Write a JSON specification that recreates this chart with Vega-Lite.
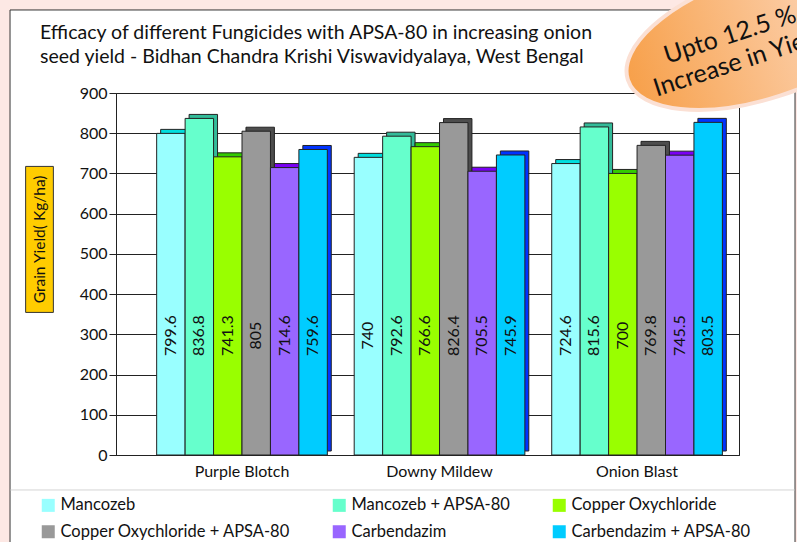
{
  "$schema": "https://vega.github.io/schema/vega-lite/v6.json",
  "width": 623,
  "height": 362,
  "autosize": {"type": "none"},
  "padding": {"left": 116, "top": 93, "right": 58, "bottom": 87},
  "background": "white",
  "config": {
    "font": "Lato",
    "view": {"stroke": "#222", "strokeWidth": 1}
  },
  "title": {
    "text": ["Efficacy of different Fungicides with APSA-80 in increasing onion", "seed yield - Bidhan Chandra Krishi Viswavidyalaya, West Bengal"],
    "anchor": "start",
    "frame": "group",
    "dx": -76,
    "dy": 130,
    "offset": 18,
    "fontSize": 19.5,
    "fontWeight": "normal",
    "color": "#111",
    "lineHeight": 24
  },
  "data": {
    "values": [
      {"disease": "Purple Blotch", "treatment": "Mancozeb", "value": 799.6, "label": "799.6"},
      {"disease": "Purple Blotch", "treatment": "Mancozeb + APSA-80", "value": 836.8, "label": "836.8"},
      {"disease": "Purple Blotch", "treatment": "Copper Oxychloride", "value": 741.3, "label": "741.3"},
      {"disease": "Purple Blotch", "treatment": "Copper Oxychloride + APSA-80", "value": 805, "label": "805"},
      {"disease": "Purple Blotch", "treatment": "Carbendazim", "value": 714.6, "label": "714.6"},
      {"disease": "Purple Blotch", "treatment": "Carbendazim + APSA-80", "value": 759.6, "label": "759.6"},
      {"disease": "Downy Mildew", "treatment": "Mancozeb", "value": 740, "label": "740"},
      {"disease": "Downy Mildew", "treatment": "Mancozeb + APSA-80", "value": 792.6, "label": "792.6"},
      {"disease": "Downy Mildew", "treatment": "Copper Oxychloride", "value": 766.6, "label": "766.6"},
      {"disease": "Downy Mildew", "treatment": "Copper Oxychloride + APSA-80", "value": 826.4, "label": "826.4"},
      {"disease": "Downy Mildew", "treatment": "Carbendazim", "value": 705.5, "label": "705.5"},
      {"disease": "Downy Mildew", "treatment": "Carbendazim + APSA-80", "value": 745.9, "label": "745.9"},
      {"disease": "Onion Blast", "treatment": "Mancozeb", "value": 724.6, "label": "724.6"},
      {"disease": "Onion Blast", "treatment": "Mancozeb + APSA-80", "value": 815.6, "label": "815.6"},
      {"disease": "Onion Blast", "treatment": "Copper Oxychloride", "value": 700, "label": "700"},
      {"disease": "Onion Blast", "treatment": "Copper Oxychloride + APSA-80", "value": 769.8, "label": "769.8"},
      {"disease": "Onion Blast", "treatment": "Carbendazim", "value": 745.5, "label": "745.5"},
      {"disease": "Onion Blast", "treatment": "Carbendazim + APSA-80", "value": 827, "label": "803.5"}
    ]
  },
  "layer": [
    {
      "mark": {"type": "bar", "yOffset": -4, "y2Offset": -4, "stroke": "#222", "strokeWidth": 1},
      "encoding": {
        "x": {
          "field": "disease", "type": "nominal",
          "sort": ["Purple Blotch", "Downy Mildew", "Onion Blast"],
          "scale": {"paddingInner": 0.136, "paddingOuter": 0.145, "align": 0.71},
          "axis": {"title": null, "labelAngle": 0, "labelFontSize": 16, "labelColor": "#111", "labelPadding": 8, "ticks": false, "domainColor": "#222"}
        },
        "xOffset": {
          "field": "treatment", "type": "nominal",
          "sort": ["Mancozeb", "Mancozeb + APSA-80", "Copper Oxychloride", "Copper Oxychloride + APSA-80", "Carbendazim", "Carbendazim + APSA-80"],
          "scale": {"paddingInner": 0, "paddingOuter": 0, "range": [4, 174.6]}
        },
        "y": {
          "field": "value", "type": "quantitative",
          "scale": {"domain": [0, 900], "nice": false},
          "axis": {
            "title": null,
            "values": [0, 100, 200, 300, 400, 500, 600, 700, 800, 900],
            "labelFontSize": 16, "labelColor": "#111", "labelPadding": 2,
            "tickSize": 7, "tickColor": "#222", "domainColor": "#222",
            "grid": true, "gridColor": "#222", "gridWidth": 1
          }
        },
        "color": {
          "field": "treatment", "type": "nominal",
          "scale": {
            "domain": ["Mancozeb", "Mancozeb + APSA-80", "Copper Oxychloride", "Copper Oxychloride + APSA-80", "Carbendazim", "Carbendazim + APSA-80"],
            "range": ["#00dede", "#33bb99", "#33cc00", "#4d4d4d", "#7a00f5", "#0033ff"]
          },
          "legend": null
        }
      }
    },
    {
      "mark": {"type": "bar", "stroke": "#222", "strokeWidth": 1},
      "encoding": {
        "x": {"field": "disease", "type": "nominal", "sort": ["Purple Blotch", "Downy Mildew", "Onion Blast"]},
        "xOffset": {
          "field": "treatment", "type": "nominal",
          "sort": ["Mancozeb", "Mancozeb + APSA-80", "Copper Oxychloride", "Copper Oxychloride + APSA-80", "Carbendazim", "Carbendazim + APSA-80"],
          "scale": {"paddingInner": 0, "paddingOuter": 0}
        },
        "y": {"field": "value", "type": "quantitative"},
        "fill": {
          "field": "treatment", "type": "nominal",
          "scale": {
            "domain": ["Mancozeb", "Mancozeb + APSA-80", "Copper Oxychloride", "Copper Oxychloride + APSA-80", "Carbendazim", "Carbendazim + APSA-80"],
            "range": ["#99ffff", "#66ffcc", "#99ff00", "#999999", "#9966ff", "#00ccff"]
          },
          "legend": {
            "title": null, "orient": "none", "legendX": -76, "legendY": 404,
            "columns": 3, "direction": "horizontal",
            "symbolType": "square", "symbolSize": 169, "symbolStrokeWidth": 0, "symbolOpacity": 1,
            "labelFontSize": 16.5, "labelColor": "#111", "labelOffset": 4, "labelLimit": 400,
            "columnPadding": 40, "rowPadding": 9.5
          }
        }
      }
    },
    {
      "mark": {"type": "text", "angle": 270, "fontSize": 16, "align": "center", "baseline": "middle", "color": "#111"},
      "encoding": {
        "x": {"field": "disease", "type": "nominal", "sort": ["Purple Blotch", "Downy Mildew", "Onion Blast"]},
        "xOffset": {
          "field": "treatment", "type": "nominal",
          "sort": ["Mancozeb", "Mancozeb + APSA-80", "Copper Oxychloride", "Copper Oxychloride + APSA-80", "Carbendazim", "Carbendazim + APSA-80"],
          "scale": {"type": "band", "paddingInner": 0, "paddingOuter": 0}
        },
        "y": {"datum": 297, "type": "quantitative"},
        "text": {"field": "label", "type": "nominal"}
      }
    },
    {
      "data": {"values": [{"note": "page frame"}]},
      "mark": {"type": "point", "shape": "M-420,-300H420V300H-420Z M-388.5,-261V290H396.5V-261Z", "size": 4, "filled": true, "fill": "#fde8e4", "stroke": "#333", "strokeWidth": 1, "opacity": 1, "xOffset": -41},
      "encoding": {
        "x": {"datum": "Downy Mildew"},
        "y": {"datum": 457.5, "type": "quantitative"}
      }
    },
    {
      "data": {"values": [{"note": "legend separator"}]},
      "mark": {"type": "point", "shape": "M-388,219H396", "size": 4, "filled": false, "stroke": "#d4d4d4", "strokeWidth": 1, "opacity": 1, "xOffset": -41},
      "encoding": {
        "x": {"datum": "Downy Mildew"},
        "y": {"datum": 457.5, "type": "quantitative"}
      }
    },
    {
      "data": {"values": [{"note": "axis title box"}]},
      "mark": {"type": "point", "shape": "M-0.19,-1H0.19V1H-0.19Z", "size": 21316, "filled": true, "fill": "#ffcc00", "stroke": "#333", "strokeWidth": 1, "opacity": 1, "xOffset": -202.5},
      "encoding": {
        "x": {"datum": "Purple Blotch"},
        "y": {"datum": 536, "type": "quantitative"}
      }
    },
    {
      "data": {"values": [{"title": "Grain Yield( Kg/ha)"}]},
      "mark": {"type": "text", "angle": 270, "fontSize": 15.5, "align": "center", "baseline": "middle", "color": "#111", "xOffset": -202.5},
      "encoding": {
        "x": {"datum": "Purple Blotch"},
        "y": {"datum": 536, "type": "quantitative"},
        "text": {"field": "title", "type": "nominal"}
      }
    },
    {
      "data": {"values": [{"note": "badge"}]},
      "mark": {
        "type": "point", "shape": "M-1,0A1,0.443,0,1,0,1,0A1,0.443,0,1,0,-1,0Z", "size": 78400, "angle": 342,
        "filled": true, "opacity": 1, "stroke": "#fbe0d4", "strokeWidth": 4, "xOffset": 124,
        "fill": {"gradient": "linear", "x1": 0, "y1": 0, "x2": 1, "y2": 0, "stops": [{"offset": 0, "color": "#f7a04a"}, {"offset": 0.6, "color": "#fbc79a"}, {"offset": 1, "color": "#fde6d6"}]}
      },
      "encoding": {
        "x": {"datum": "Onion Blast"},
        "y": {"datum": 1040, "type": "quantitative"}
      }
    },
    {
      "data": {"values": [{"note": "badge text"}]},
      "mark": {"type": "text", "text": ["Upto 12.5 %", "Increase in Yield"], "angle": 342, "fontSize": 25, "lineHeight": 28, "align": "center", "baseline": "middle", "color": "#111", "xOffset": 93},
      "encoding": {
        "x": {"datum": "Onion Blast"},
        "y": {"datum": 1044, "type": "quantitative"}
      }
    }
  ],
  "resolve": {"scale": {"color": "independent", "fill": "independent", "xOffset": "independent"}}
}
